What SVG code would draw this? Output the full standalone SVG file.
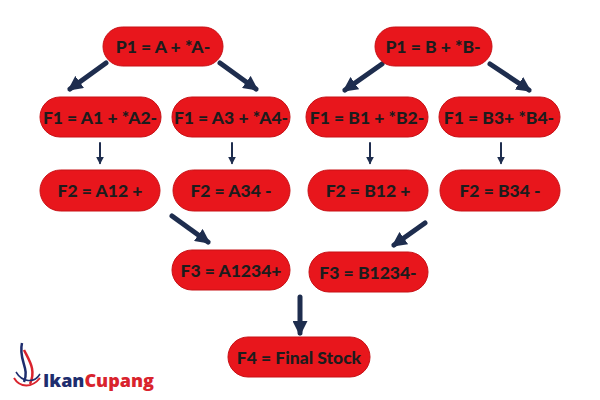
<svg xmlns="http://www.w3.org/2000/svg" width="600" height="400" viewBox="0 0 600 400">
<style>
.n rect{fill:#e8161c;stroke:#c81015;stroke-width:1}
.n text{font-family:Lato,"Open Sans","Liberation Sans",sans-serif;font-weight:900;font-size:17.5px;fill:#1c1c1c;text-anchor:middle;dominant-baseline:central}
.c line{stroke:#1e2d4e;stroke-linecap:round}
</style>
<defs>
<marker id="ah" viewBox="0 0 10 10" refX="8" refY="5" markerWidth="3" markerHeight="3" orient="auto"><path d="M0,0L10,5L0,10z" fill="#1e2d4e"/></marker>
<marker id="as" viewBox="0 0 10 10" refX="8" refY="5" markerWidth="4" markerHeight="4" orient="auto"><path d="M0,0L10,5L0,10z" fill="#1e2d4e"/></marker>
</defs>
<rect width="600" height="400" fill="#fff"/>
<g class="c">
<line x1="106" y1="63" x2="70" y2="89" stroke-width="5" marker-end="url(#ah)"/>
<line x1="220" y1="63" x2="256" y2="89" stroke-width="5" marker-end="url(#ah)"/>
<line x1="382" y1="64" x2="345" y2="90" stroke-width="5" marker-end="url(#ah)"/>
<line x1="490" y1="64" x2="529" y2="90" stroke-width="5" marker-end="url(#ah)"/>
<line x1="100" y1="143" x2="100" y2="163" stroke-width="2" marker-end="url(#as)"/>
<line x1="232" y1="143" x2="232" y2="163" stroke-width="2" marker-end="url(#as)"/>
<line x1="370" y1="143" x2="370" y2="163" stroke-width="2" marker-end="url(#as)"/>
<line x1="501" y1="143" x2="501" y2="163" stroke-width="2" marker-end="url(#as)"/>
<line x1="172" y1="216" x2="208" y2="242" stroke-width="5" marker-end="url(#ah)"/>
<line x1="425" y1="223" x2="394" y2="245" stroke-width="5" marker-end="url(#ah)"/>
<line x1="300" y1="297" x2="300" y2="333" stroke-width="5" marker-end="url(#ah)"/>
</g>
<g id="p1a" class="n"><rect x="103" y="27" width="120" height="39" rx="19.5"/><text x="163" y="46">P1 = A + *A-</text></g>
<g id="p1b" class="n"><rect x="375" y="27" width="117" height="39" rx="19.5"/><text x="433" y="46">P1 = B + *B-</text></g>
<g id="f1a1" class="n"><rect x="40" y="97" width="121" height="40" rx="20"/><text x="100" y="117">F1 = A1 + *A2-</text></g>
<g id="f1a3" class="n"><rect x="172" y="97" width="118" height="40" rx="20"/><text x="231" y="117">F1 = A3 + *A4-</text></g>
<g id="f1b1" class="n"><rect x="306" y="97" width="122" height="40" rx="20"/><text x="367" y="117">F1 = B1 + *B2-</text></g>
<g id="f1b3" class="n"><rect x="439" y="97" width="121" height="40" rx="20"/><text x="499" y="117">F1 = B3+ *B4-</text></g>
<g id="f2a12" class="n"><rect x="40" y="170" width="120" height="41" rx="20.5"/><text x="100" y="190">F2 = A12 +</text></g>
<g id="f2a34" class="n"><rect x="173" y="170" width="117" height="41" rx="20.5"/><text x="231" y="190">F2 = A34 -</text></g>
<g id="f2b12" class="n"><rect x="308" y="170" width="120" height="41" rx="20.5"/><text x="368" y="190">F2 = B12 +</text></g>
<g id="f2b34" class="n"><rect x="440" y="170" width="120" height="41" rx="20.5"/><text x="500" y="190">F2 = B34 -</text></g>
<g id="f3a" class="n"><rect x="172" y="250" width="118" height="40" rx="20"/><text x="231" y="270">F3 = A1234+</text></g>
<g id="f3b" class="n"><rect x="309" y="252" width="119" height="40" rx="20"/><text x="368" y="272">F3 = B1234-</text></g>
<g id="f4" class="n"><rect x="228" y="337" width="142" height="40" rx="20"/><text x="299" y="357">F4 = Final Stock</text></g>
<g id="logo">
<path d="M22,343 C18,360 30,368 24,382" stroke="#1e2d6e" stroke-width="2.5" fill="none"/>
<path d="M24,350 C30,362 36,370 30,384" stroke="#d9232d" stroke-width="2.5" fill="none"/>
<path d="M14,378 C20,388 32,388 40,378" stroke="#d9232d" stroke-width="2" fill="none"/>
<path d="M16,372 C22,382 34,384 40,374" stroke="#1e2d6e" stroke-width="1.5" fill="none"/>
<text x="43" y="387" font-family="'Open Sans','Liberation Sans',sans-serif" font-weight="800" font-size="18" fill="#1e2d6e">Ikan<tspan fill="#d9232d">Cupang</tspan></text>
</g>
</svg>
